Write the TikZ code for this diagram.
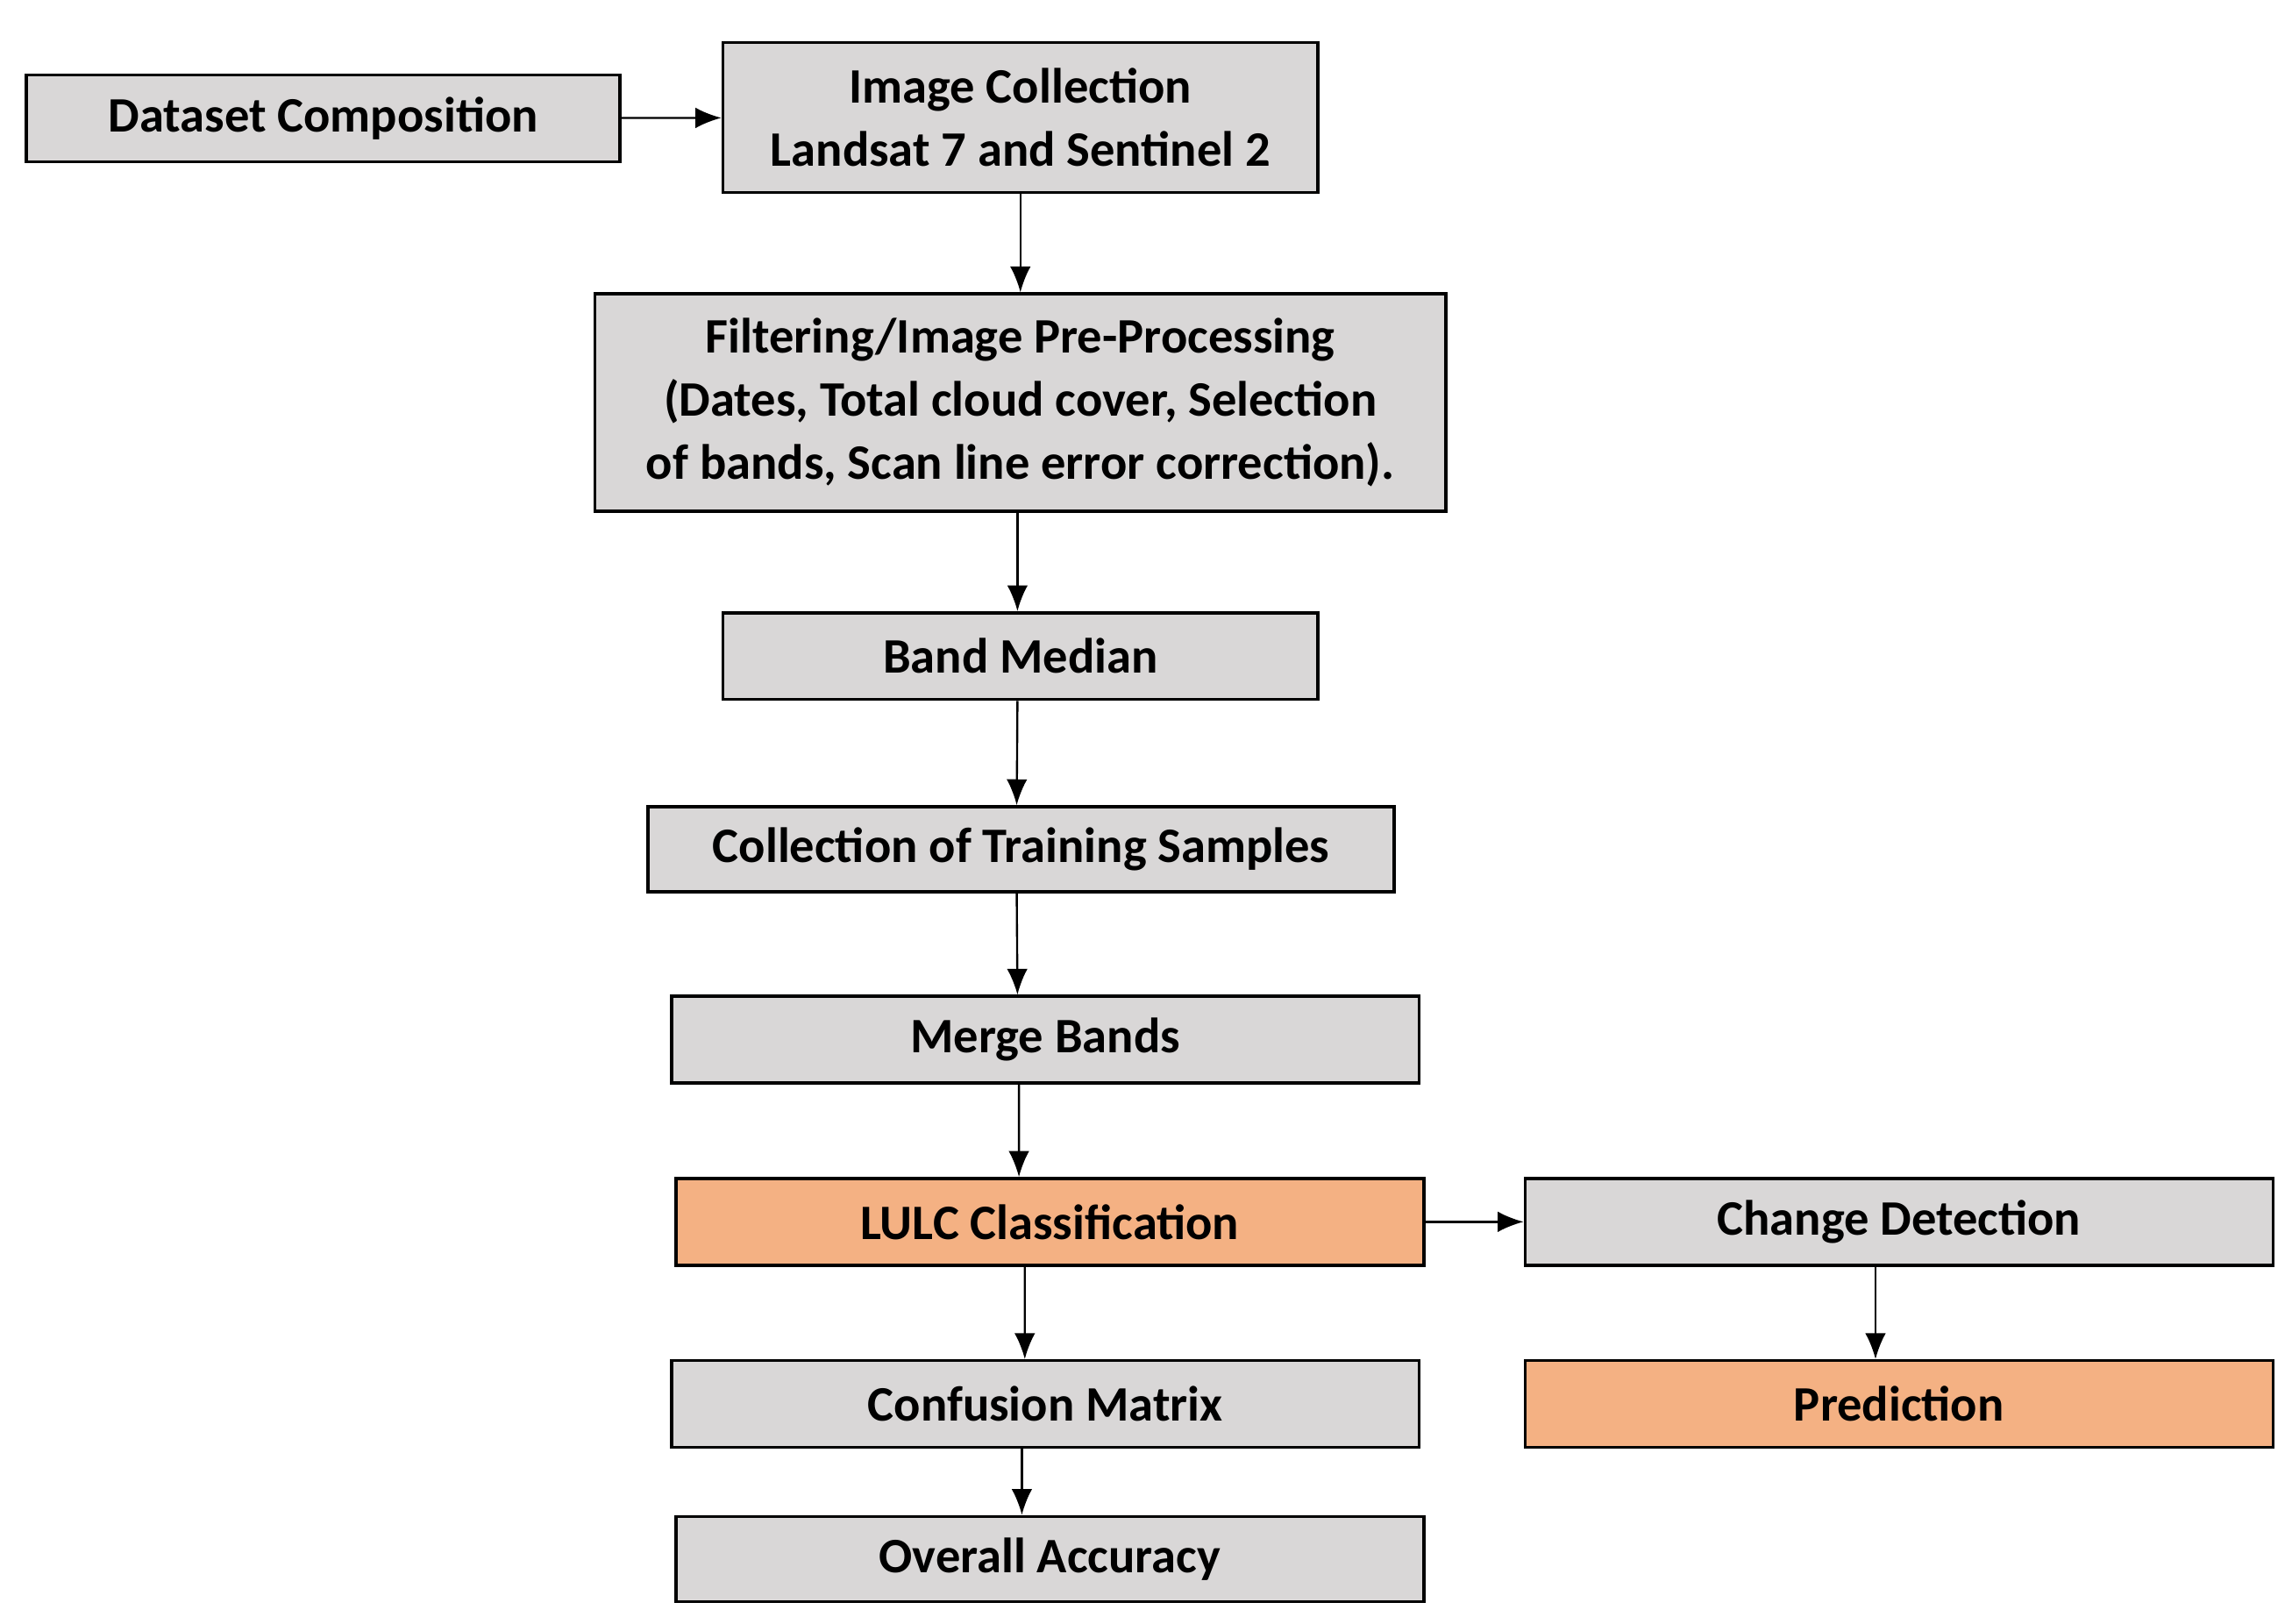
\documentclass[tikz,border=0pt]{standalone}
\usepackage{fontspec}
\setmainfont{Carlito}
\usetikzlibrary{arrows.meta, calc}
\definecolor{boxgray}{RGB}{217,215,215}
\definecolor{boxorange}{RGB}{244,177,131}

\begin{document}
\begin{tikzpicture}[
    box/.style={draw, fill=boxgray, line width=0.6pt, align=center, inner sep=0pt,
      font=\fontsize{9.6}{12.2}\selectfont\bfseries},
    hot/.style={box, fill=boxorange},
    arr/.style={-{Latex[length=5pt,width=4pt]}, line width=0.4pt}]
    \useasboundingbox (0,0) rectangle (15.6,-11.05);
    \node[box, minimum width=4.04cm, minimum height=0.59cm] (dataset) at (2.20,-0.805) {Dataset Composition};
    \node[box, minimum width=4.05cm, minimum height=1.02cm] (collection) at (6.945,-0.80) {Image Collection\\Landsat 7 and Sentinel 2};
    \node[box, minimum width=5.79cm, minimum height=1.48cm] (filter) at (6.945,-2.74) {Filtering/Image Pre-Processing\\(Dates, Total cloud cover, Selection\\of bands, Scan line error correction).};
    \node[box, minimum width=4.05cm, minimum height=0.59cm] (median) at (6.945,-4.465) {Band Median};
    \node[box, minimum width=5.08cm, minimum height=0.58cm] (training) at (6.95,-5.78) {Collection of Training Samples};
    \node[box, minimum width=5.09cm, minimum height=0.59cm] (merge) at (7.115,-7.075) {Merge Bands};
    \node[hot, minimum width=5.09cm, minimum height=0.59cm] (lulc) at (7.145,-8.315) {LULC Classification};
    \node[box, minimum width=5.09cm, minimum height=0.59cm] (change) at (12.925,-8.315) {Change Detection};
    \node[box, minimum width=5.09cm, minimum height=0.59cm] (confusion) at (7.115,-9.555) {Confusion Matrix};
    \node[hot, minimum width=5.09cm, minimum height=0.59cm] (predict) at (12.925,-9.555) {Prediction};
    \node[box, minimum width=5.09cm, minimum height=0.58cm] (overall) at (7.145,-10.61) {Overall Accuracy};
    % horizontal arrows
    \draw[arr] (dataset) -- (collection);
    \draw[arr] (lulc) -- (change);
    % vertical arrows
    \draw[arr] (collection.south) -- (filter);
    \draw[arr] ($(filter.south)+(-0.02,0)$) -- ($(median.north)+(-0.02,0)$);
    \draw[arr] ($(median.south)+(-0.02,0)$) -- ($(training.north)+(-0.03,0)$);
    \draw[arr] ($(training.south)+(-0.03,0)$) -- ($(merge.north)+(-0.19,0)$);
    \draw[arr] ($(merge.south)+(-0.18,0)$) -- ($(lulc.north)+(-0.21,0)$);
    \draw[arr] ($(lulc.south)+(-0.17,0)$) -- ($(confusion.north)+(-0.14,0)$);
    \draw[arr] ($(confusion.south)+(-0.16,0)$) -- ($(overall.north)+(-0.19,0)$);
    \draw[arr] ($(change.south)+(-0.16,0)$) -- ($(predict.north)+(-0.16,0)$);
\end{tikzpicture}
\end{document}
